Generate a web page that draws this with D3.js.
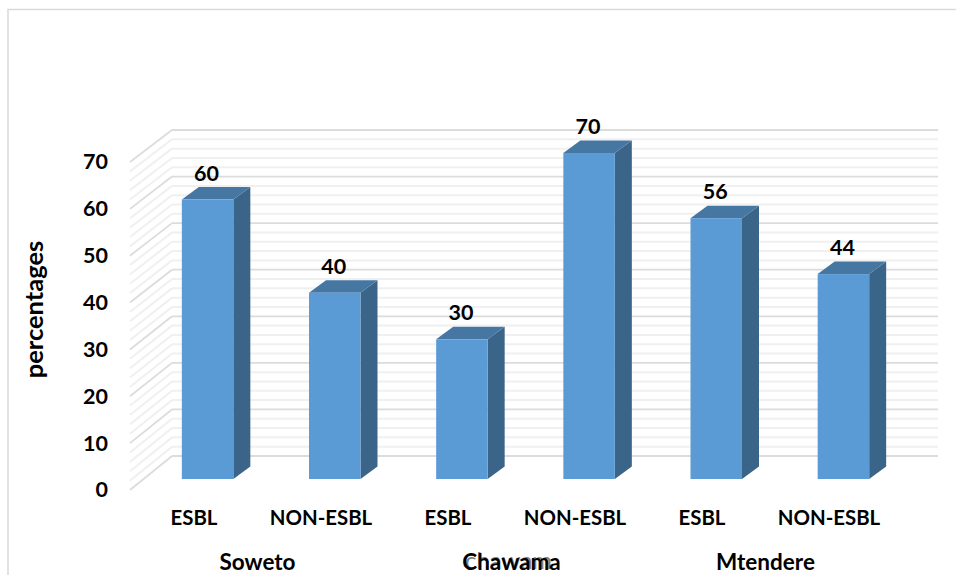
<!DOCTYPE html>
<html>
<head>
<meta charset="utf-8">
<script src="https://cdnjs.cloudflare.com/ajax/libs/d3/7.8.5/d3.min.js"></script>
<style>
html,body{margin:0;padding:0;background:#fff}
svg{display:block}
text{font-family:Lato,"Open Sans",sans-serif;font-weight:700;fill:#000}
</style>
</head>
<body>
<svg id="chart" width="956" height="575"></svg>
<script>
// Share of ESBL and non-ESBL isolates per site
const sites = ["Soweto", "Chawama", "Mtendere"];
const categories = ["ESBL", "NON-ESBL", "ESBL", "NON-ESBL", "ESBL", "NON-ESBL"];
const percentages = [60, 40, 30, 70, 56, 44];
const yTicks = [0, 10, 20, 30, 40, 50, 60, 70];
const gridSteps = d3.range(0, 70.5, 2);

const svg = d3.select("#chart");

// Frame of the chart area: only the left and top edges fall inside the page
svg.append("path")
  .attr("d", "M8,575V9.5H956")
  .attr("fill", "none").attr("stroke", "#d9d9d9").attr("stroke-width", 1.5);

// Scales for the back wall, the front edge of the side wall and the bar fronts
const yBack = d3.scaleLinear().domain([0, 70]).range([456, 130]);
const yFront = d3.scaleLinear().domain([0, 70]).range([490, 162]);
const yBar = d3.scaleLinear().domain([0, 70]).range([479, 153]);
const x = d3.scaleBand().domain(d3.range(categories.length)).range([144, 907]).paddingInner(0.595).paddingOuter(0.2975);
const labelX = d3.scalePoint().domain(d3.range(categories.length)).range([194, 829]);
const wallLeft = 172, wallRight = 938, sideLeft = 130;
const depthX = 17, depthY = 12.5;

const isMajor = d => d % 10 === 0;
const gridColor = d => isMajor(d) ? "#dcdcdc" : "#f0f0f0";
const gridWidth = d => isMajor(d) ? 1.8 : 2;

// Back wall gridlines
svg.append("g").selectAll("line").data(gridSteps).join("line")
  .attr("x1", wallLeft).attr("x2", wallRight)
  .attr("y1", d => yBack(d)).attr("y2", d => yBack(d))
  .attr("stroke", gridColor).attr("stroke-width", gridWidth);

// Side wall gridlines running to the front edge
svg.append("g").selectAll("line").data(gridSteps).join("line")
  .attr("x1", sideLeft).attr("x2", wallLeft)
  .attr("y1", d => yFront(d)).attr("y2", d => yBack(d))
  .attr("stroke", gridColor).attr("stroke-width", gridWidth);

// Bars as three faces: side, top, front
const bars = svg.append("g").selectAll("g").data(percentages).join("g");
bars.append("path")
  .attr("fill", "#3b6489")
  .attr("d", (d, i) => {
    const r = x(i) + x.bandwidth(), t = yBar(d), b = yBar(0);
    return `M${r},${t}L${r + depthX},${t - depthY}V${b - depthY}L${r},${b}Z`;
  });
bars.append("path")
  .attr("fill", "#4676a2")
  .attr("d", (d, i) => {
    const l = x(i), r = l + x.bandwidth(), t = yBar(d);
    return `M${l},${t}L${l + depthX},${t - depthY}H${r + depthX}L${r},${t}Z`;
  });
bars.append("rect")
  .attr("fill", "#5b9bd5")
  .attr("x", (d, i) => x(i))
  .attr("y", d => yBar(d))
  .attr("width", x.bandwidth())
  .attr("height", d => yBar(0) - yBar(d));

// Value labels
bars.append("text")
  .attr("text-anchor", "middle")
  .attr("font-size", 21.5)
  .attr("x", (d, i) => x(i) + x.bandwidth() / 2 - 1)
  .attr("y", d => yBar(d) - 19)
  .text(d => d);

// Value axis along the front edge
const axis = svg.append("g").attr("transform", "translate(108,0)")
  .call(d3.axisLeft(yFront).tickValues(yTicks).tickSize(0).tickPadding(0));
axis.select(".domain").remove();
axis.selectAll("text").attr("font-size", 21.5).style("font-family", "Lato").style("font-weight", 700);

// Axis title
svg.append("text")
  .attr("transform", "translate(43,309.5) rotate(-90)")
  .attr("text-anchor", "middle").attr("font-size", 25.5)
  .text("percentages");

// Category labels
svg.append("g").selectAll("text").data(categories).join("text")
  .attr("text-anchor", "middle").attr("font-size", 20.4)
  .attr("x", (d, i) => labelX(i))
  .attr("y", 525)
  .text(d => d);

// Site labels, each centred under its pair of bars
const siteCentre = i => (labelX(i * 2) + labelX(i * 2 + 1)) / 2;

// Stray lighter word sitting behind the middle site name
svg.append("text")
  .attr("x", 465).attr("y", 569)
  .attr("font-size", 24).style("font-weight", 400).style("fill", "#808080")
  .text("chawam");

svg.append("g").selectAll("text").data(sites).join("text")
  .attr("text-anchor", "middle").attr("font-size", 22.5)
  .attr("x", (d, i) => siteCentre(i))
  .attr("y", 570)
  .text(d => d);
</script>
</body>
</html>
